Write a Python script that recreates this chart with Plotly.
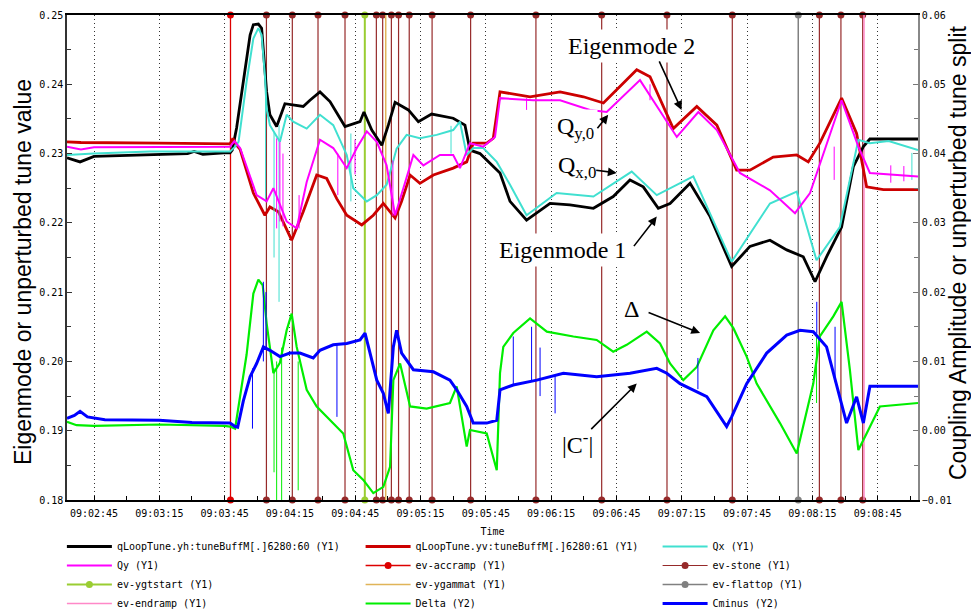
import pandas as pd
import plotly.graph_objects as go

T0 = pd.Timestamp("2011-01-01 09:02:45")

# ---------------- data (time = seconds after 09:02:45) ----------------
yh_t = [-12.4, -6.4, 0, 25.7, 43.0, 46.0, 50.0, 59.7, 62.5, 63.5, 65.5, 68.6, 71.7, 73.2, 75.5, 77.0,
        79.3, 80.8, 83.9, 87.7, 91.5, 96.1, 99.2, 103.8, 108.4, 115.3, 122.2, 124.0, 127.6, 132.2, 135.2, 138.3,
        144.4, 149.0, 155.1, 165.0, 170.4, 172.7, 177.3, 186.5, 191.1, 198.7, 209.5, 218.6, 229.4, 238.5, 246.2, 252.3,
        259.2, 264.6, 273.8, 283.0, 292.9, 301.3, 310.5, 318.2, 325.8, 331.2, 336.5, 343.4, 348.8, 353.4, 356.4, 378.5]
yh_v = [0.2294, 0.2288, 0.2296, 0.2299, 0.2300, 0.2303, 0.2299, 0.2301, 0.2301, 0.2305, 0.2337, 0.2404, 0.2471, 0.2486, 0.2487, 0.2481,
        0.2389, 0.2356, 0.2339, 0.2372, 0.2370, 0.2368, 0.2377, 0.2389, 0.2375, 0.2339, 0.2346, 0.2360, 0.2334, 0.2312, 0.2341, 0.2374,
        0.2363, 0.2346, 0.2357, 0.2351, 0.2341, 0.2305, 0.2300, 0.2272, 0.2231, 0.2204, 0.2228, 0.2226, 0.2221, 0.2238, 0.2262, 0.2252,
        0.2221, 0.2228, 0.2257, 0.2209, 0.2137, 0.2166, 0.2175, 0.2161, 0.2151, 0.2115, 0.2151, 0.2194, 0.2281, 0.2310, 0.2321, 0.2321]

yv_t = [-12.4, -6.0, 30.0, 62.5, 63.8, 65.5, 67.1, 73.2, 78.5, 80.8, 84.7, 90.8, 96.1, 102.3, 106.9, 111.5,
        116.1, 123.0, 128.3, 132.9, 138.3, 141.3, 145.2, 149.7, 155.9, 165.0, 171.2, 174.2, 180.4, 183.4, 186.5, 200.3,
        214.1, 224.8, 234.0, 240.1, 249.3, 255.4, 266.1, 276.9, 286.1, 295.2, 301.3, 312.0, 322.8, 328.1, 333.4, 343.4,
        350.3, 354.9, 362.6, 378.5]
yv_v = [0.2317, 0.2316, 0.2315, 0.2314, 0.2322, 0.2312, 0.2306, 0.2243, 0.2211, 0.2223, 0.2216, 0.2175, 0.2216, 0.2269, 0.2264, 0.2235,
        0.2211, 0.2197, 0.2211, 0.2228, 0.2207, 0.2231, 0.2269, 0.2257, 0.2269, 0.2279, 0.2288, 0.2315, 0.2315, 0.2322, 0.2389, 0.2382,
        0.2389, 0.2382, 0.2373, 0.2392, 0.2421, 0.2411, 0.2336, 0.2368, 0.2341, 0.2276, 0.2276, 0.2295, 0.2298, 0.2288, 0.2315, 0.2380,
        0.2329, 0.2252, 0.2248, 0.2248]

qx_t = [-12.4, 0, 25.7, 62.5, 64.8, 66.4, 70.1, 73.2, 75.5, 77.0, 78.5, 79.3, 80.8, 82.4, 85.4, 88.5,
        91.5, 97.7, 103.8, 109.9, 116.1, 119.1, 125.3, 129.9, 134.4, 139.0, 143.6, 149.7, 157.4, 165.0, 168.1, 171.2,
        174.2, 178.8, 185.0, 191.1, 198.7, 212.5, 229.4, 247.0, 258.5, 275.3, 292.9, 310.5, 322.8, 331.9, 342.6, 351.1,
        356.4, 365.0, 378.5]
qx_v = [0.2298, 0.2300, 0.2303, 0.2303, 0.2310, 0.2317, 0.2404, 0.2466, 0.2481, 0.2471, 0.2413, 0.2365, 0.2341, 0.2332, 0.2317, 0.2356,
        0.2346, 0.2336, 0.2356, 0.2341, 0.2298, 0.2250, 0.2231, 0.2240, 0.2255, 0.2307, 0.2327, 0.2322, 0.2327, 0.2334, 0.2346, 0.2298,
        0.2308, 0.2308, 0.2288, 0.2255, 0.2211, 0.2243, 0.2238, 0.2274, 0.2240, 0.2267, 0.2144, 0.2228, 0.2245, 0.2146, 0.2194, 0.2320,
        0.2315, 0.2318, 0.2305]

qy_t = [-12.4, -6.0, 0, 50.0, 62.5, 64.5, 67.1, 74.7, 79.3, 82.4, 88.5, 93.1, 97.7, 103.8, 109.9, 116.1,
        120.7, 125.3, 129.9, 134.4, 138.3, 142.1, 146.7, 151.3, 158.9, 165.0, 168.1, 172.7, 178.8, 184.2, 186.5, 201.8,
        214.1, 227.8, 235.5, 250.8, 267.7, 277.6, 286.1, 296.7, 310.5, 322.0, 328.9, 343.4, 351.1, 356.4, 378.5]
qy_v = [0.2310, 0.2306, 0.2309, 0.2310, 0.2310, 0.2318, 0.2308, 0.2240, 0.2231, 0.2250, 0.2202, 0.2192, 0.2259, 0.2320, 0.2308, 0.2279,
        0.2308, 0.2332, 0.2317, 0.2283, 0.2211, 0.2250, 0.2298, 0.2283, 0.2298, 0.2298, 0.2279, 0.2315, 0.2310, 0.2324, 0.2380, 0.2377,
        0.2377, 0.2363, 0.2360, 0.2406, 0.2324, 0.2360, 0.2334, 0.2272, 0.2247, 0.2214, 0.2243, 0.2377, 0.2310, 0.2272, 0.2267]

delta_t = [-12.4, -8.0, 0, 30.0, 60.0, 62.5, 64.8, 67.1, 70.1, 73.2, 75.5, 77.5, 79.3, 82.4, 85.4, 88.5,
           90.8, 93.1, 97.7, 102.3, 108.4, 114.5, 119.1, 123.7, 128.3, 132.9, 136.0, 137.5, 140.6, 145.2, 152.8, 163.5,
           166.6, 171.2, 172.7, 180.4, 185.0, 186.5, 188.0, 192.6, 200.3, 208.0, 220.2, 230.9, 238.5, 244.7, 253.9, 260.0,
           264.6, 270.7, 276.9, 284.5, 289.9, 293.7, 299.8, 304.4, 315.1, 322.8, 330.4, 333.4, 339.6, 343.4, 347.2, 351.1,
           354.9, 361.0, 378.5]
delta_v = [0.0013, 0.0008, 0.0007, 0.0009, 0.0007, 0.0006, 0.0003, 0.0049, 0.0110, 0.0198, 0.0218, 0.0210, 0.0155, 0.0083, 0.0098, 0.0145,
           0.0169, 0.0121, 0.0059, 0.0035, 0.0015, -0.0004, -0.0057, -0.0071, -0.0090, -0.0081, -0.0052, 0.0073, 0.0097, 0.0035, 0.0032, 0.0040,
           0.0064, -0.0023, 0.0001, -0.0004, -0.0057, 0.0083, 0.0121, 0.0141, 0.0162, 0.0143, 0.0136, 0.0131, 0.0114, 0.0124, 0.0143, 0.0126,
           0.0097, 0.0073, 0.0092, 0.0145, 0.0165, 0.0148, 0.0107, 0.0068, 0.0011, -0.0033, 0.0068, 0.0136, 0.0165, 0.0186, 0.0088, -0.0028,
           -0.0004, 0.0035, 0.0040]

cminus_t = [-12.4, -9.0, -6.4, -3.0, 5.0, 30.0, 45.0, 55.0, 62.5, 64.8, 66.0, 68.6, 71.7, 74.7, 77.8, 80.8,
            85.4, 90.0, 94.6, 100.7, 103.8, 109.9, 116.1, 122.2, 124.5, 126.8, 129.9, 132.9, 135.2, 137.5, 139.0, 141.3,
            146.7, 155.9, 163.5, 166.6, 171.2, 174.2, 180.4, 185.0, 186.5, 192.6, 203.4, 215.6, 230.9, 246.2, 258.5, 263.1,
            269.2, 281.5, 290.6, 292.9, 299.8, 309.0, 318.2, 324.3, 330.4, 336.5, 342.6, 345.7, 350.3, 353.4, 356.4, 378.5]
cminus_v = [0.0018, 0.0022, 0.0028, 0.0020, 0.0016, 0.0015, 0.0012, 0.0012, 0.0011, 0.0006, 0.0005, 0.0043, 0.0078, 0.0097, 0.0121, 0.0116,
            0.0107, 0.0112, 0.0112, 0.0105, 0.0116, 0.0124, 0.0126, 0.0131, 0.0141, 0.0112, 0.0073, 0.0054, 0.0025, 0.0121, 0.0145, 0.0112,
            0.0088, 0.0085, 0.0073, 0.0059, 0.0035, 0.0011, 0.0011, 0.0015, 0.0059, 0.0066, 0.0073, 0.0083, 0.0078, 0.0083, 0.0090, 0.0083,
            0.0068, 0.0049, 0.0006, 0.0020, 0.0068, 0.0112, 0.0138, 0.0145, 0.0143, 0.0121, 0.0049, 0.0011, 0.0049, 0.0011, 0.0064, 0.0064]

# spikes: time, low, high
qx_spk_t = [78.8, 82.7, 85.0, 118.0, 164.0, 375.7]
qx_spk_lo = [0.2230, 0.2150, 0.2086, 0.2231, 0.2300, 0.2262]
qx_spk_hi = [0.2400, 0.2330, 0.2341, 0.2329, 0.2340, 0.2301]
qy_spk_t = [83.9, 85.4, 86.8, 94.2, 112.0, 119.9, 137.3, 198.7, 255.4, 340.0, 366.0, 372.0]
qy_spk_lo = [0.2192, 0.2202, 0.2195, 0.2192, 0.2240, 0.2270, 0.2210, 0.2363, 0.2377, 0.2262, 0.2258, 0.2260]
qy_spk_hi = [0.2322, 0.2317, 0.2300, 0.2240, 0.2300, 0.2320, 0.2290, 0.2380, 0.2400, 0.2310, 0.2283, 0.2282]
delta_spk_t = [82.7, 83.9, 86.2, 93.8, 331.9]
delta_spk_lo = [-0.0060, -0.0100, -0.0100, -0.0086, 0.0040]
delta_spk_hi = [0.0090, 0.0100, 0.0120, 0.0100, 0.0136]
cminus_spk_t = [72.8, 77.8, 79.0, 111.6, 192.6, 201.0, 204.9, 211.8, 277.4, 332.0, 340.4]
cminus_spk_lo = [0.0003, 0.0100, 0.0120, 0.0020, 0.0066, 0.0073, 0.0050, 0.0025, 0.0060, 0.0140, 0.0070]
cminus_spk_hi = [0.0090, 0.0215, 0.0200, 0.0126, 0.0136, 0.0150, 0.0120, 0.0080, 0.0105, 0.0186, 0.0150]

# events (seconds after 09:02:45)
ev_accramp = [62.7]
ev_stone = [79.2, 91.1, 102.9, 115.3, 129.7, 132.6, 136.6, 139.9, 144.8, 155.3, 173.0,
            203.0, 233.2, 263.2, 293.2, 333.2, 343.1, 353.1]
ev_ygtstart = [124.4]
ev_ygammat = [134.0]
ev_flattop = [323.5]
ev_endramp = [353.7]

X_RANGE = [-12.4, 378.5]
Y1_RANGE = [0.18, 0.25]
Y2_RANGE = [-0.01, 0.06]


def clock(secs):
    return [None if s is None else (T0 + pd.Timedelta(seconds=s)).strftime("%Y-%m-%d %H:%M:%S.%f")
            for s in secs]


def event_xy(times):
    xs, ys = [], []
    for s in times:
        xs += [s, s, None]
        ys += [Y1_RANGE[0], Y1_RANGE[1], None]
    return clock(xs), ys


def spike_xy(ts, lo, hi):
    xs, ys = [], []
    for t, a, b in zip(ts, lo, hi):
        xs += [t, t, None]
        ys += [a, b, None]
    return clock(xs), ys


MONO = "DejaVu Sans Mono"
fig = go.Figure()

# event lines (drawn underneath)
events = [
    ("ev-accramp (Y1)", ev_accramp, "#dd0000", True, 1.3, "legend2", 2),
    ("ev-stone (Y1)", ev_stone, "#962a2a", True, 1.2, "legend3", 2),
    ("ev-ygtstart (Y1)", ev_ygtstart, "#9acd32", True, 2.0, "legend", 3),
    ("ev-ygammat (Y1)", ev_ygammat, "#e0b458", False, 1.5, "legend2", 3),
    ("ev-flattop (Y1)", ev_flattop, "#808080", True, 1.5, "legend3", 3),
    ("ev-endramp (Y1)", ev_endramp, "#ff88c8", False, 1.5, "legend", 4),
]
for name, times, col, dots, w, leg, rank in events:
    ex, ey = event_xy(times)
    fig.add_trace(go.Scatter(
        x=ex, y=ey, name=name, mode="lines+markers" if dots else "lines",
        line=dict(color=col, width=w), marker=dict(size=7, color=col),
        cliponaxis=False, legend=leg, legendrank=rank, hoverinfo="skip"))

series = [
    ("qLoopTune.yh:tuneBuffM[.]6280:60 (Y1)", yh_t, yh_v, "#000000", 2.8, "y", "legend", 1),
    ("qLoopTune.yv:tuneBuffM[.]6280:61 (Y1)", yv_t, yv_v, "#cc0000", 2.8, "y", "legend2", 1),
    ("Qx (Y1)", qx_t, qx_v, "#40e0d0", 2.0, "y", "legend3", 1),
    ("Qy (Y1)", qy_t, qy_v, "#ff00ff", 2.0, "y", "legend", 2),
    ("Delta (Y2)", delta_t, delta_v, "#00ee00", 2.2, "y2", "legend2", 4),
    ("Cminus (Y2)", cminus_t, cminus_v, "#0000ff", 3.0, "y2", "legend3", 4),
]
spikes = {
    "Qx (Y1)": (qx_spk_t, qx_spk_lo, qx_spk_hi),
    "Qy (Y1)": (qy_spk_t, qy_spk_lo, qy_spk_hi),
    "Delta (Y2)": (delta_spk_t, delta_spk_lo, delta_spk_hi),
    "Cminus (Y2)": (cminus_spk_t, cminus_spk_lo, cminus_spk_hi),
}
for name, ts, vs, col, w, yax, leg, rank in series:
    fig.add_trace(go.Scatter(
        x=clock(ts), y=vs, name=name, mode="lines", yaxis=yax,
        line=dict(color=col, width=w), legend=leg, legendrank=rank))
    if name in spikes:
        sx, sy = spike_xy(*spikes[name])
        fig.add_trace(go.Scatter(
            x=sx, y=sy, mode="lines", yaxis=yax, showlegend=False,
            line=dict(color=col, width=1), hoverinfo="skip"))

# ---------------- annotations ----------------
SERIF = dict(family="Liberation Serif", size=24, color="black")
labels = [
    ("Eigenmode 2", 246.7, 0.2455),
    ("Q<sub>y,0</sub>", 221.4, 0.2337),
    ("Q<sub>x,0</sub>", 221.9, 0.2281),
    ("Eigenmode 1", 215.2, 0.2161),
    ("Δ", 247.1, 0.2076),
    ("|C<sup>-</sup>|", 222.3, 0.1882),
]
for txt, t, v in labels:
    fig.add_annotation(x=clock([t])[0], y=v, xref="x", yref="y", text=txt, showarrow=False,
                       font=SERIF, bgcolor="white", borderpad=3)

arrows = [  # head time, head value, tail offset (px)
    (269.9, 0.2363, -23, -50),
    (236.2, 0.2356, -12, 15),
    (240.1, 0.2272, -22, -3),
    (258.5, 0.2209, -24, 31),
    (278.4, 0.2041, -53, -21),
    (249.3, 0.1968, -47, 47),
]
for t, v, ax, ay in arrows:
    fig.add_annotation(x=clock([t])[0], y=v, xref="x", yref="y", text="", showarrow=True,
                       ax=ax, ay=ay, arrowhead=2, arrowsize=1.1, arrowwidth=1.6,
                       arrowcolor="black", standoff=0)

TITLE_FONT = dict(family="Liberation Sans", size=23, color="black")
fig.add_annotation(x=-0.0517, y=0.4701, xref="paper", yref="paper", textangle=-90,
                   text="Eigenmode or unperturbed tune value", showarrow=False,
                   font=TITLE_FONT, xanchor="center", yanchor="middle")
fig.add_annotation(x=1.047, y=0.5113, xref="paper", yref="paper", textangle=-90,
                   text="Coupling Amplitude or unperturbed tune split", showarrow=False,
                   font=TITLE_FONT, xanchor="center", yanchor="middle")

leg_common = dict(orientation="v", yanchor="top", xanchor="left", y=-0.066,
                  font=dict(family=MONO, size=10, color="black"),
                  bgcolor="rgba(0,0,0,0)", itemwidth=45, tracegroupgap=0)

fig.update_layout(
    width=971, height=611,
    margin=dict(l=67, r=53, t=15, b=111, autoexpand=False),
    paper_bgcolor="white", plot_bgcolor="white",
    font=dict(family=MONO, size=10, color="black"),
    legend=dict(leg_common, x=-0.006),
    legend2=dict(leg_common, x=0.345),
    legend3=dict(leg_common, x=0.694),
    xaxis=dict(
        type="date", range=clock(X_RANGE), tick0=clock([0])[0], dtick=30000,
        tickformat="%H:%M:%S", ticks="inside", ticklen=4, tickcolor="black",
        minor=dict(dtick=15000, tick0=clock([0])[0], ticks="inside", ticklen=4, tickcolor="black", showgrid=False),
        showgrid=True, griddash="1px,3px", gridcolor="#333333", gridwidth=1,
        showline=True, linecolor="black", linewidth=1.5, mirror=True,
        zeroline=False, automargin=False, ticklabelstandoff=3,
        title=dict(text="Time", font=dict(family=MONO, size=10), standoff=10),
        tickfont=dict(family=MONO, size=10),
    ),
    yaxis=dict(
        range=Y1_RANGE, dtick=0.01, tickformat=".2f", ticks="inside", ticklen=5,
        tickcolor="#333333", automargin=False,
        minor=dict(dtick=0.005, ticks="inside", ticklen=4, tickcolor="#333333", showgrid=False),
        showgrid=False, zeroline=False, showline=True, linecolor="#333333", linewidth=1.5,
        tickfont=dict(family=MONO, size=10),
    ),
    yaxis2=dict(
        range=Y2_RANGE, dtick=0.01, tickformat=".2f", ticks="inside", ticklen=5,
        tickcolor="#777777", overlaying="y", side="right", automargin=False,
        minor=dict(dtick=0.005, ticks="inside", ticklen=4, tickcolor="#777777", showgrid=False),
        showgrid=False, zeroline=False, showline=True, linecolor="#888888", linewidth=1.5,
        tickfont=dict(family=MONO, size=10),
    ),
    hovermode=False,
)

fig.write_html("out.html", config={"displayModeBar": False},
               post_script="document.body.style.margin='0';document.body.style.overflow='hidden';")
